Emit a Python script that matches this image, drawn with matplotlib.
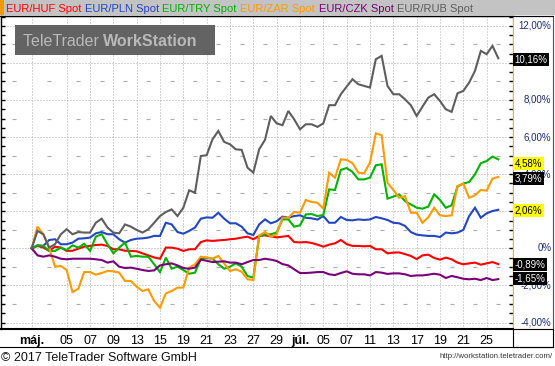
import numpy as np
import matplotlib
matplotlib.use('Agg')
import matplotlib.pyplot as plt
import matplotlib.transforms as mtransforms
from matplotlib.patches import Rectangle
from matplotlib.lines import Line2D
from matplotlib.ticker import MultipleLocator

plt.rcParams['font.family'] = ['Liberation Sans', 'DejaVu Sans']

# ---------------- data ----------------
series_names = ['EUR/HUF Spot', 'EUR/PLN Spot', 'EUR/TRY Spot',
                'EUR/ZAR Spot', 'EUR/CZK Spot', 'EUR/RUB Spot']
series_colors = ['#ff0000', '#2246c4', '#00b400', '#ff9a00', '#7a007a', '#5e5e5e']

# time in trading days, half-day samples
t_days = np.arange(81) * 0.5

eur_huf = [0.00, 0.13, 0.04, -0.14, 0.09, 0.04, -0.14, -0.13, -0.02, 0.09,
           0.13, 0.18, 0.20, 0.13, -0.05, -0.05, -0.13, -0.14, -0.16, -0.27,
           -0.38, -0.49, -0.56, 0.04, 0.04, -0.02, -0.14, -0.05, -0.05, 0.34,
           0.43, 0.40, 0.43, 0.45, 0.49, 0.52, 0.58, 0.63, 0.49, 0.67,
           0.70, 0.65, 0.59, 0.63, 0.67, 0.34, 0.32, 0.34, 0.29, 0.20,
           0.09, 0.20, 0.27, 0.45, 0.23, 0.13, 0.13, 0.11, 0.13, -0.05,
           -0.05, -0.27, -0.23, -0.22, -0.31, -0.41, -0.58, -0.38, -0.34, -0.52,
           -0.61, -0.50, -0.59, -0.77, -0.86, -0.81, -0.77, -0.88, -0.81, -0.74,
           -0.85]
eur_pln = [0.00, 0.16, 0.13, 0.45, 0.49, 0.22, 0.22, 0.31, 0.52, 0.54,
           0.58, 0.81, 0.88, 0.76, 0.76, 0.49, 0.31, 0.45, 0.52, 0.54,
           0.58, 0.67, 0.67, 1.38, 1.29, 0.88, 0.79, 0.94, 1.12, 1.60,
           1.67, 1.65, 1.92, 1.60, 1.35, 1.35, 1.17, 0.81, 0.72, 1.29,
           1.56, 1.35, 1.46, 1.71, 1.65, 1.74, 1.78, 1.65, 1.62, 1.55,
           1.74, 1.38, 1.38, 1.69, 1.53, 1.51, 1.56, 1.53, 1.56, 1.69,
           1.62, 1.53, 1.38, 1.35, 1.21, 0.88, 0.74, 0.70, 0.67, 0.67,
           0.61, 0.85, 0.81, 0.85, 0.99, 1.74, 2.19, 1.65, 1.89, 2.01,
           2.08]
eur_try = [0.00, 0.16, 0.13, -0.14, -0.14, 0.04, -0.09, 0.16, 0.04, 0.25,
           -0.14, 0.63, 0.76, 0.22, -0.27, 0.04, 0.31, -0.45, -0.41, -0.45,
           -0.45, -0.86, -1.28, -0.50, -1.10, -0.99, -1.17, -1.37, -1.31, -0.56,
           -0.52, -0.56, -0.86, -1.10, -0.99, -0.81, -0.99, -1.49, -1.58, 0.63,
           0.76, 0.76, 0.85, 1.56, 1.56, 1.17, 1.24, 1.83, 1.85, 1.74,
           1.80, 3.18, 3.15, 4.23, 4.33, 4.12, 3.72, 3.72, 3.81, 4.48,
           4.53, 2.68, 2.79, 2.91, 2.55, 2.37, 2.19, 2.14, 2.25, 2.91,
           2.61, 2.19, 2.32, 3.33, 3.49, 3.58, 3.99, 4.59, 4.71, 4.95,
           4.80]
eur_zar = [0.00, 1.17, 0.76, 0.04, -0.99, -0.95, -1.17, -2.36, -2.18, -1.28,
           -1.28, -1.42, -1.33, -1.22, -1.24, -1.31, -1.76, -1.76, -2.07, -2.30,
           -2.21, -2.84, -3.20, -2.43, -2.30, -2.12, -2.12, -1.04, -0.86, -0.45,
           -0.49, -0.56, -0.41, -0.81, -1.22, -1.13, -1.26, -1.67, -1.71, 0.70,
           0.88, 0.63, 0.76, 1.65, 1.65, 1.96, 1.92, 2.61, 2.50, 2.46,
           2.14, 4.08, 3.81, 4.80, 4.77, 4.59, 4.08, 4.05, 4.62, 6.20,
           6.10, 3.54, 3.15, 2.73, 2.82, 1.92, 1.92, 1.38, 1.67, 2.19,
           1.78, 1.74, 1.78, 3.36, 3.49, 2.73, 2.86, 3.15, 3.11, 3.76,
           3.85]
eur_czk = [0.00, -0.38, -0.45, -0.38, -0.45, -0.56, -0.59, -0.56, -0.56, -0.56,
           -0.56, -0.59, -0.63, -0.77, -0.70, -0.99, -1.06, -1.04, -1.10, -1.17,
           -1.22, -1.19, -0.92, -0.86, -0.81, -0.92, -1.06, -1.10, -1.04, -0.61,
           -0.67, -0.74, -0.72, -0.70, -0.77, -0.77, -0.86, -0.74, -0.63, -0.63,
           -0.56, -0.61, -0.68, -0.85, -0.92, -1.13, -1.33, -1.33, -1.31, -1.28,
           -1.28, -1.40, -1.44, -1.33, -1.24, -1.37, -1.40, -1.40, -1.46, -1.28,
           -1.31, -1.38, -1.35, -1.35, -1.40, -1.49, -1.46, -1.46, -1.42, -1.37,
           -1.42, -1.60, -1.49, -1.56, -1.64, -1.67, -1.64, -1.71, -1.60, -1.71,
           -1.66]
eur_rub = [0.00, 0.94, 0.76, 0.04, 0.22, 0.76, 1.03, 0.76, 0.88, 0.85,
           0.85, 1.38, 1.60, 1.12, 0.85, 0.81, 1.29, 1.17, 0.99, 0.85,
           1.03, 1.38, 1.74, 1.96, 2.10, 1.74, 2.19, 3.13, 3.00, 4.98,
           5.02, 5.88, 6.33, 5.74, 5.61, 5.34, 5.31, 4.35, 4.08, 5.34,
           5.85, 7.14, 6.74, 6.64, 7.41, 6.96, 6.42, 6.69, 6.69, 6.55,
           6.74, 7.72, 7.72, 8.31, 8.72, 9.12, 8.85, 8.76, 8.67, 10.20,
           10.38, 8.76, 8.31, 8.31, 8.04, 7.72, 7.14, 7.64, 8.13, 8.31,
           7.95, 7.50, 7.36, 8.36, 8.49, 8.94, 9.57, 10.65, 10.47, 10.92,
           10.25]
all_series = [eur_huf, eur_pln, eur_try, eur_zar, eur_czk, eur_rub]

last_values = [-0.89, 2.06, 4.58, 3.79, -1.65, 10.16]
last_highlight = [False, True, True, False, False, False]

tick_days = [0, 3, 5, 7, 9, 11, 13, 15, 17, 19, 21, 23, 25, 27, 29, 31, 33, 35, 37, 39]
tick_labels = ['máj.', '05', '07', '09', '13', '15', '19', '21', '23', '27',
               '29', 'júl.', '05', '07', '11', '13', '17', '19', '21', '25']
y_ticks = [-4, -2, 0, 2, 4, 6, 8, 10, 12]
y_minor = [-3, -1, 1, 3, 5, 7, 9, 11]
# scale labels that stay visible beside the last-value boxes
y_labels_shown = [-4, -2, 0, 4, 6, 8, 12]


def pct(v):
    if v == 0:
        return '0%'
    return ('%.2f' % v).replace('.', ',') + '%'


# ---------------- layout ----------------
W, H = 555, 366
fig = plt.figure(figsize=(W / 100, H / 100), dpi=100)
fig.patch.set_facecolor('white')


def box(x0, y0, x1, y1):
    return [x0 / W, 1 - y1 / H, (x1 - x0) / W, (y1 - y0) / H]


def fx(px):
    return px / W


def fy(py):
    return 1 - py / H


GRID = '#ababab'

ax = fig.add_axes(box(1, 16, 513, 329))
ax.set_xlim(-2.63, 41.26)
ax.set_ylim(-4.35, 12.53)
ax.set_facecolor('white')

for yv in y_ticks:
    ax.axhline(yv, color=GRID, lw=0.72, ls=(0, (1, 2)), zorder=1)
for d in tick_days:
    ax.axvline(d, color=GRID, lw=0.72, ls=(0, (1, 2)), zorder=1)

mids = [tick_days[0] - 1.5] + [(a + b) / 2 for a, b in zip(tick_days[:-1], tick_days[1:])] + [tick_days[-1] + 1]
for yv in y_minor:
    ax.plot(mids, [yv] * len(mids), ls='none', marker='_', ms=3, mew=0.8,
            color=GRID, zorder=1)

for vals, col in zip(all_series, series_colors):
    ax.plot(t_days, vals, color=col, lw=1.5, zorder=3, solid_joinstyle='miter')

ax.set_xticks([])
ax.yaxis.set_major_locator(MultipleLocator(0.5))
ax.tick_params(axis='y', which='both', direction='in', length=3, width=1,
               left=True, right=True, labelleft=False, labelright=False, color='black')
ax.spines['top'].set_color('black')
ax.spines['top'].set_linewidth(1)
ax.spines['left'].set_color('black')
ax.spines['left'].set_linewidth(1)
ax.spines['bottom'].set_color('black')
ax.spines['bottom'].set_linewidth(1.5)
ax.spines['right'].set_color('#f0b030')
ax.spines['right'].set_linewidth(1)

# watermark
fig.patches.append(Rectangle((fx(15), fy(55)), 200 / W, 30 / H, transform=fig.transFigure,
                             fc='#636363', ec='none', zorder=2))
renderer = fig.canvas.get_renderer()
wm1 = fig.text(fx(23), fy(46), 'TeleTrader ', fontsize=11.5, color='#b9b9b9',
               va='baseline', zorder=3)
bb = wm1.get_window_extent(renderer)
fig.text(fx(23) + bb.width / W, fy(46), 'WorkStation', fontsize=11.5, fontweight='bold',
         color='#b9b9b9', va='baseline', zorder=3)

# right value panel
ax2 = fig.add_axes(box(513.5, 16, 552.5, 329))
ax2.set_xlim(0, 1)
ax2.set_ylim(-4.35, 12.53)
ax2.set_xticks([])
ax2.set_yticks([])
ax2.spines['left'].set_visible(False)
ax2.spines['right'].set_color('#2f4cc8')
ax2.spines['top'].set_color('black')
ax2.spines['bottom'].set_color('#f0b030')
for yv in y_labels_shown:
    ax2.text(0.97, yv, pct(yv), ha='right', va='center', fontsize=7, color='#1c2a78', zorder=2)
for v, hi in zip(last_values, last_highlight):
    ax2.text(0.03, v, pct(v), ha='left', va='center', fontsize=7,
             color='black' if hi else 'white', zorder=5,
             bbox=dict(boxstyle='square,pad=0.15', fc='#ffff00' if hi else 'black', ec='none'))

# title bar with legend
fig.patches.append(Rectangle((0, fy(15)), 1, 15 / H, transform=fig.transFigure,
                             fc='#c3c3c3', ec='none'))
fig.patches.append(Rectangle((0, fy(15)), 4 / W, 15 / H, transform=fig.transFigure,
                             fc='#f39a00', ec='none'))
fig.lines.append(Line2D([0, fx(553)], [fy(15.5), fy(15.5)], transform=fig.transFigure,
                        color='black', lw=0.8))
x = 6
for name, col in zip(series_names, series_colors):
    tx = fig.text(fx(x), fy(12.5), name, color=col, fontsize=8, va='baseline')
    x += tx.get_window_extent(renderer).width + 3.5

# x axis band
trans = mtransforms.blended_transform_factory(ax.transData, fig.transFigure)
for d, lab in zip(tick_days, tick_labels):
    ax.text(d, fy(344), lab, transform=trans, ha='center', va='baseline', fontsize=9,
            fontweight='bold' if lab.endswith('.') else 'normal', color='black', clip_on=False)
fig.lines.append(Line2D([0, fx(553)], [fy(346.7), fy(346.7)], transform=fig.transFigure,
                        color='black', lw=0.8))
fig.patches.append(Rectangle((fx(513), fy(346.7)), 40 / W, 17.7 / H, transform=fig.transFigure,
                             fc='white', ec='black', lw=0.8))

# footer
fig.text(fx(1), fy(361), '\u00a9 2017 TeleTrader Software GmbH', fontsize=9,
         va='baseline', color='#111111')
fig.text(fx(553), fy(357.5), 'http://workstation.teletrader.com/', fontsize=5.6,
         ha='right', va='baseline', color='#333333')

fig.savefig('out.png', dpi=100, facecolor='white')
